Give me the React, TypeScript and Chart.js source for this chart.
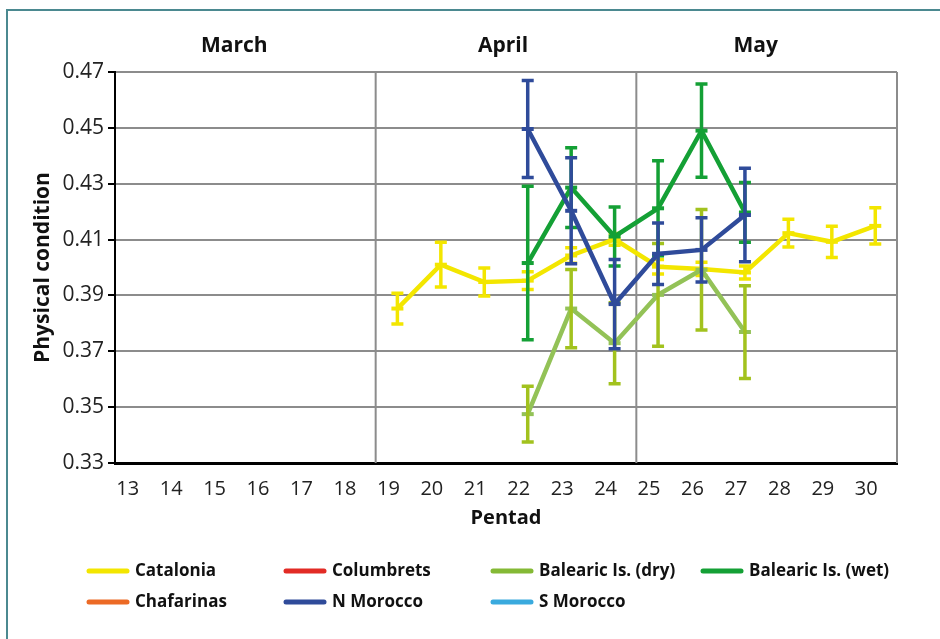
import React, { useEffect, useRef } from "react";
import { Chart, registerables } from "chart.js";

Chart.register(...registerables);

// ---- data ----
const pentads = ["13", "14", "15", "16", "17", "18", "19", "20", "21", "22", "23", "24", "25", "26", "27", "28", "29", "30"];
const months = ["March", "April", "May"];
const monthFirstIndex = [0, 6, 12];
const yMin = 0.33;
const yMax = 0.47;
const yStep = 0.02;

const seriesNames = ["Catalonia", "Columbrets", "Balearic Is. (dry)", "Balearic Is. (wet)", "Chafarinas", "N Morocco", "S Morocco"];

const N = null;
const catalonia = [N, N, N, N, N, N, 0.3853, 0.401, 0.3948, 0.3953, 0.4043, 0.4101, 0.4003, 0.3995, 0.3982, 0.4123, 0.4092, 0.4149];
const cataloniaErr = [N, N, N, N, N, N, 0.0055, 0.008, 0.005, 0.0032, 0.0028, 0.0021, 0.0026, 0.0024, 0.0023, 0.005, 0.0056, 0.0065];

const columbrets = [N, N, N, N, N, N, N, N, N, N, N, N, N, N, N, N, N, N];
const columbretsErr = [N, N, N, N, N, N, N, N, N, N, N, N, N, N, N, N, N, N];

const balearicDry = [N, N, N, N, N, N, N, N, N, 0.3475, 0.3853, 0.3729, 0.3902, 0.3992, 0.3769, N, N, N];
const balearicDryErr = [N, N, N, N, N, N, N, N, N, 0.010, 0.014, 0.0145, 0.0184, 0.0216, 0.0166, N, N, N];

const balearicWet = [N, N, N, N, N, N, N, N, N, 0.4016, 0.4286, 0.4111, 0.4212, 0.449, 0.4197, N, N, N];
const balearicWetErr = [N, N, N, N, N, N, N, N, N, 0.0275, 0.0143, 0.0106, 0.017, 0.0167, 0.0107, N, N, N];

const chafarinas = [N, N, N, N, N, N, N, N, N, N, N, N, N, N, N, N, N, N];
const chafarinasErr = [N, N, N, N, N, N, N, N, N, N, N, N, N, N, N, N, N, N];

const nMorocco = [N, N, N, N, N, N, N, N, N, 0.4496, 0.4203, 0.3869, 0.4049, 0.4063, 0.4188, N, N, N];
const nMoroccoErr = [N, N, N, N, N, N, N, N, N, 0.0174, 0.019, 0.016, 0.011, 0.0115, 0.0167, N, N, N];

const sMorocco = [N, N, N, N, N, N, N, N, N, N, N, N, N, N, N, N, N, N];
const sMoroccoErr = [N, N, N, N, N, N, N, N, N, N, N, N, N, N, N, N, N, N];

// ---- styles ----
const lineColors = ["#f3e600", "#e22b25", "#93c257", "#14a035", "#ec6a25", "#2f4b9a", "#3aaade"];
const legendColors = ["#f3e600", "#e22b25", "#84b935", "#14a035", "#ec6a25", "#2f4b9a", "#3aaade"];
const errColors = ["#f3e600", "#e22b25", "#a2c21e", "#14a035", "#ec6a25", "#2f4b9a", "#3aaade"];

const FONT = "'Open Sans', 'Noto Sans', sans-serif";

const errorBarPlugin = {
  id: "errorBars",
  afterDatasetDraw(chart: any, args: any) {
    const ds = chart.data.datasets[args.index];
    const errs: (number | null)[] = ds.errors || [];
    const y = chart.scales.y;
    const x = chart.scales.x;
    const ctx = chart.ctx;
    ctx.save();
    ctx.strokeStyle = ds.errColor;
    ctx.lineWidth = 3.5;
    ctx.lineCap = "butt";
    ds.data.forEach((v: number | null, i: number) => {
      const e = errs[i];
      if (v == null || e == null) return;
      const px = x.getPixelForValue(i);
      const top = y.getPixelForValue(v + e);
      const bot = y.getPixelForValue(v - e);
      ctx.beginPath();
      ctx.moveTo(px, top);
      ctx.lineTo(px, bot);
      ctx.moveTo(px - 6, top);
      ctx.lineTo(px + 6, top);
      ctx.moveTo(px - 6, bot);
      ctx.lineTo(px + 6, bot);
      ctx.stroke();
    });
    ctx.restore();
  },
};

const monthShift = [-11, -3, -11];

const decorPlugin = {
  id: "decor",
  beforeDatasetsDraw(chart: any) {
    const { ctx, chartArea } = chart;
    const x = chart.scales.x;
    ctx.save();
    ctx.strokeStyle = "#8c8c8c";
    ctx.lineWidth = 2;
    const xs: number[] = [];
    monthFirstIndex.slice(1).forEach((idx) => {
      xs.push((x.getPixelForValue(idx - 1) + x.getPixelForValue(idx)) / 2);
    });
    xs.push(chartArea.right);
    xs.forEach((px) => {
      ctx.beginPath();
      ctx.moveTo(px, chartArea.top);
      ctx.lineTo(px, chartArea.bottom);
      ctx.stroke();
    });
    ctx.restore();
  },
  afterDraw(chart: any) {
    const { ctx, chartArea } = chart;
    const x = chart.scales.x;
    ctx.save();
    // month labels
    ctx.font = `bold 21px ${FONT}`;
    ctx.fillStyle = "#111";
    ctx.textAlign = "center";
    ctx.textBaseline = "middle";
    const bounds: number[] = [chartArea.left];
    monthFirstIndex.slice(1).forEach((idx) => {
      bounds.push((x.getPixelForValue(idx - 1) + x.getPixelForValue(idx)) / 2);
    });
    bounds.push(chartArea.right);
    months.forEach((m, i) => {
      const cx = (bounds[i] + bounds[i + 1]) / 2 + monthShift[i];
      ctx.fillText(m, cx, 46);
    });
    // legend
    const cols = [87, 284, 491, 701];
    const rows = [571, 602];
    ctx.font = `bold 17px ${FONT}`;
    ctx.textAlign = "left";
    chart.data.datasets.forEach((ds: any, i: number) => {
      const cx = cols[i % 4];
      const cy = rows[Math.floor(i / 4)];
      ctx.strokeStyle = ds.legendColor;
      ctx.lineWidth = 5;
      ctx.lineCap = "round";
      ctx.beginPath();
      ctx.moveTo(cx + 2, cy);
      ctx.lineTo(cx + 40, cy);
      ctx.stroke();
      ctx.fillStyle = "#111";
      ctx.fillText(ds.label, cx + 48, cy);
    });
    ctx.restore();
  },
};

export default function App() {
  const canvasRef = useRef<HTMLCanvasElement | null>(null);

  useEffect(() => {
    if (!canvasRef.current) return;
    const values = [catalonia, columbrets, balearicDry, balearicWet, chafarinas, nMorocco, sMorocco];
    const errors = [cataloniaErr, columbretsErr, balearicDryErr, balearicWetErr, chafarinasErr, nMoroccoErr, sMoroccoErr];
    const datasets = seriesNames.map((name, i) => ({
      label: name,
      data: values[i],
      errors: errors[i],
      errColor: errColors[i],
      legendColor: legendColors[i],
      borderColor: lineColors[i],
      backgroundColor: lineColors[i],
      borderWidth: 4.5,
      pointStyle: "line",
      pointRadius: 6,
      pointBorderWidth: 4,
      pointBorderColor: lineColors[i],
      pointHoverRadius: 6,
      tension: 0,
      spanGaps: false,
      order: seriesNames.length - 1 - i,
    }));

    const chart = new Chart(canvasRef.current, {
      type: "line",
      data: { labels: pentads, datasets: datasets as any },
      plugins: [decorPlugin, errorBarPlugin],
      options: {
        animation: false,
        responsive: false,
        maintainAspectRatio: false,
        layout: { padding: { left: 20, top: 72, right: 43, bottom: 109 } },
        plugins: {
          legend: { display: false },
          tooltip: { enabled: false },
          title: { display: false },
        },
        scales: {
          x: {
            type: "category",
            offset: true,
            grid: { display: false, drawTicks: false },
            border: { display: true, color: "#000", width: 3 },
            ticks: {
              font: { family: FONT, size: 20 },
              color: "#222",
              padding: 14,
              labelOffset: -9,
              maxRotation: 0,
              autoSkip: false,
            },
            title: {
              display: true,
              text: "Pentad",
              font: { family: FONT, size: 20, weight: "bold" },
              color: "#111",
              padding: { top: 0, bottom: 0 },
            },
            afterFit: (s: any) => {
              s.height = 67;
            },
          },
          y: {
            min: yMin,
            max: yMax,
            grid: { color: "#8c8c8c", lineWidth: 2, tickColor: "#000", tickLength: 7, tickWidth: 2 },
            border: { display: true, color: "#000", width: 2 },
            ticks: {
              stepSize: yStep,
              font: { family: FONT, size: 21 },
              color: "#222",
              padding: 4,
              callback: (v: any) => Number(v).toFixed(2),
            },
            title: {
              display: true,
              text: "Physical condition",
              font: { family: FONT, size: 21, weight: "bold" },
              color: "#111",
              padding: { top: 10, bottom: 0 },
            },
            afterFit: (s: any) => {
              s.width = 95;
            },
          },
        },
      } as any,
    });
    return () => chart.destroy();
  }, []);

  return (
    <div style={{ position: "fixed", left: 0, top: 0, width: 940, height: 639, overflow: "hidden", background: "#fff" }}>
      <canvas ref={canvasRef} width={940} height={639} style={{ position: "absolute", left: 0, top: 0, width: 940, height: 639 }} />
      <div
        style={{
          position: "absolute",
          left: 6,
          top: 9,
          width: 960,
          height: 660,
          border: "2px solid #4b8990",
          boxSizing: "border-box",
          pointerEvents: "none",
        }}
      />
    </div>
  );
}
